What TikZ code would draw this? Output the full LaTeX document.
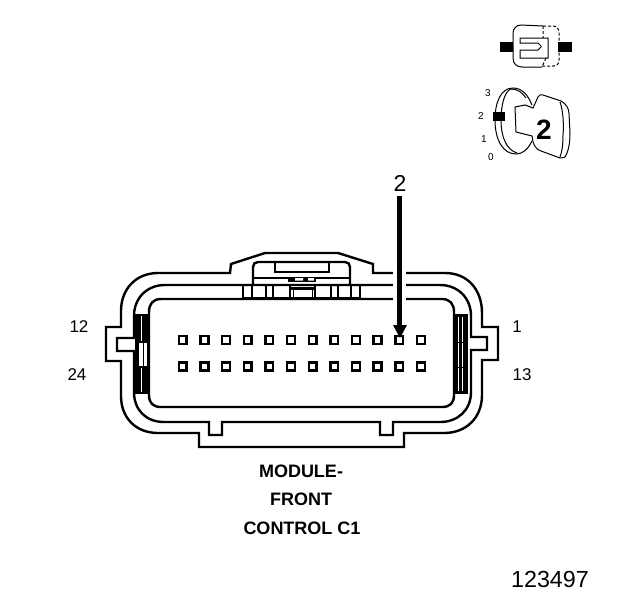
\documentclass[tikz,border=0pt]{standalone}
\usepackage{fontspec}
\setmainfont{Liberation Sans}
\tikzset{
  outline/.style={draw=black,line width=2.4pt,line join=miter},
  thin line/.style={draw=black,line width=1pt},
  pinbox/.style={draw=black,line width=2.5pt,fill=white,minimum size=7.8pt,inner sep=0pt,outer sep=0pt},
  lbl/.style={font=\fontsize{17}{17}\selectfont,inner sep=0pt,text=black},
  captext/.style={font=\bfseries\fontsize{18}{18}\selectfont,inner sep=0pt,text=black},
  tinytext/.style={font=\fontsize{10}{10}\selectfont,inner sep=0pt,text=black}
}
\begin{document}
\begin{tikzpicture}[x=1pt,y=-1pt]
\useasboundingbox (0,0) rectangle (624,600);
\fill[white] (0,0) rectangle (624,600);
% outer shell
\draw[outline] (230,273) -- (231,264) -- (265,253) -- (338,253) -- (373,264) -- (373,273) -- (445,273)
  .. controls (468,273) and (482,290) .. (482,313) -- (482,327) -- (498,327) -- (498,360) -- (482,360) -- (482,395)
  .. controls (482,418) and (466,433) .. (444,433) -- (404,433) -- (404,447) -- (199,447) -- (199,433) -- (158,433)
  .. controls (136,433) and (121,418) .. (121,396) -- (121,361) -- (106,361) -- (106,327) -- (121,327) -- (121,311)
  .. controls (121,289) and (136,273) .. (158,273) -- cycle;
% second shell
\draw[outline] (134,338) -- (134,316) .. controls (134,298) and (147,285) .. (165,285) -- (440,285)
  .. controls (458,285) and (471,298) .. (471,316) -- (471,337) -- (487,337) -- (487,350) -- (471,350) -- (471,392)
  .. controls (471,410) and (458,422) .. (440,422) -- (393,422) -- (393,435) -- (380,435) -- (380,422) -- (222,422)
  -- (222,435) -- (209,435) -- (209,422) -- (164,422) .. controls (146,422) and (134,410) .. (134,392)
  -- (134,351) -- (117,351) -- (117,338) -- cycle;
% body
\draw[outline] (161,299) -- (442,299) .. controls (450,299) and (454,304) .. (454,312) -- (454,395)
  .. controls (454,403) and (450,407) .. (442,407) -- (161,407) .. controls (153,407) and (149,403) .. (149,395)
  -- (149,312) .. controls (149,304) and (153,299) .. (161,299) -- cycle;
% left comb
\fill[black] (136,315) rectangle (149,393);
\foreach \aa/\bb in {316/341,368/392}{
  \draw[white,line width=.9pt] (141.7,\aa) -- (141.7,\bb);}
\fill[white] (139,343) rectangle (147,366);
\draw[thin line] (143,343) -- (143,366);
\draw[thin line] (136,342) -- (149,342) (136,367) -- (149,367);
\draw[outline] (136,315) rectangle (149,393);
% right comb
\fill[black] (454,315) rectangle (467,393);
\foreach \xx in {458,462}{\draw[white,line width=.9pt] (\xx,317) -- (\xx,391);}
\draw[thin line] (454,342) -- (467,342) (454,367) -- (467,367);
\draw[outline] (454,315) rectangle (467,393);
% latch
\draw[outline] (253,285) -- (253,267) .. controls (253,264) and (255,262) .. (258,262) -- (345,262)
  .. controls (348,262) and (350,264) .. (350,267) -- (350,285);
\draw[outline] (275,263) -- (275,272) -- (329,272) -- (329,263);
\draw[outline] (253,278) -- (350,278);
\fill[black] (288,276.5) rectangle (316,282);
\fill[white] (295,278) rectangle (303,280.5) (308,278) rectangle (314,280.5);
\foreach \xx in {243,252,266,273,331,338,351,360}{\draw[outline] (\xx,285) -- (\xx,298);}
\draw[outline] (290,285) -- (290,298) (315,285) -- (315,298);
\draw[thin line] (293,289) -- (293,298) (312,289) -- (312,298);
\draw[outline] (290,288.5) -- (315,288.5);
\draw[outline] (243,298) -- (360,298);
% pins
\foreach \i in {0,...,11}{
  \node[pinbox] (a\i) at ({182.7+21.66*\i},340) {};
  \node[pinbox] (b\i) at ({182.7+21.66*\i},366.5) {};
}
% arrow with halo
\fill[white] (393,270) rectangle (406,304);
\coordinate (arrowstart) at (399.5,196);
\draw[black,line width=4.5pt] (arrowstart) -- (399.5,328);
\fill[black] (393,325) -- (407,325) -- (400,338) -- cycle;
% labels
\node[lbl] (n2) at (400,183) {\fontsize{23}{23}\selectfont 2};
\node[lbl] (n12) at (79,327) {12};
\node[lbl] (n24) at (77,375) {24};
\node[lbl] (n1) at (517,327) {1};
\node[lbl] (n13) at (522,375) {13};
\node[captext] (m1) at (301,471) {MODULE-};
\node[captext] (m2) at (301,499) {FRONT};
\node[captext] (m3) at (302,528) {CONTROL C1};
\node[lbl,font=\fontsize{23.3}{23.3}\selectfont] (num) at (550,579) {123497};
% top icon
\fill[black] (500,42) rectangle (513,52);
\fill[black] (558,42) rectangle (572,52);
\draw[thin line] (543,26) -- (521,25) .. controls (516,25) and (513,29) .. (513,33) -- (513,58) .. controls (513,64) and (517,67) .. (522,67) -- (542,67);
\draw[thin line,densely dashed] (543,26) -- (553,26) .. controls (557,26) and (559,29) .. (559,33) -- (559,60) .. controls (559,64) and (557,66) .. (553,66) -- (542,66);
\draw[thin line,densely dashed] (543,26) -- (543,38) (546,58) -- (542,67);
\draw[thin line] (520,38) -- (548,38) -- (548,58) -- (520,58) -- (520,50) -- (538,50) -- (541,47) -- (541,46) -- (538,43) -- (520,43) -- cycle;
% bottom icon
\node[tinytext] (t3) at (488,93) {3};
\node[tinytext] (t2) at (481,116) {2};
\node[tinytext] (t1) at (484,139) {1};
\node[tinytext] (t0) at (491,157) {0};
\draw[thin line] (532,105) .. controls (528,95) and (522,88) .. (513,88) .. controls (501,88) and (495,102) .. (495,120) .. controls (495,140) and (503,154) .. (516,154) .. controls (523,154) and (528,149) .. (532,141);
\draw[thin line] (526,98) .. controls (522,92) and (517,89) .. (511,89) .. controls (505,91) and (501,104) .. (501,120) .. controls (501,138) and (507,150) .. (517,153);
\draw[thin line,fill=white] (515,107) -- (525,105) -- (533,108) -- (538,97) .. controls (539,95) and (541,94) .. (543,95) -- (561,101) .. controls (566,104) and (569,108) .. (569,114) -- (570,133) .. controls (570,145) and (568,152) .. (565,157) .. controls (563,158) and (561,158) .. (560,158) -- (541,151) .. controls (537,150) and (533,146) .. (532,136) -- (516,132) -- cycle;
\draw[thin line] (560,102) .. controls (563,110) and (564,125) .. (563,135) .. controls (563,145) and (562,152) .. (560,157);
\fill[black] (493,112) rectangle (505,121);
\node[lbl,font=\bfseries\fontsize{28}{28}\selectfont] (big2) at (544,130) {2};
\end{tikzpicture}
\end{document}
